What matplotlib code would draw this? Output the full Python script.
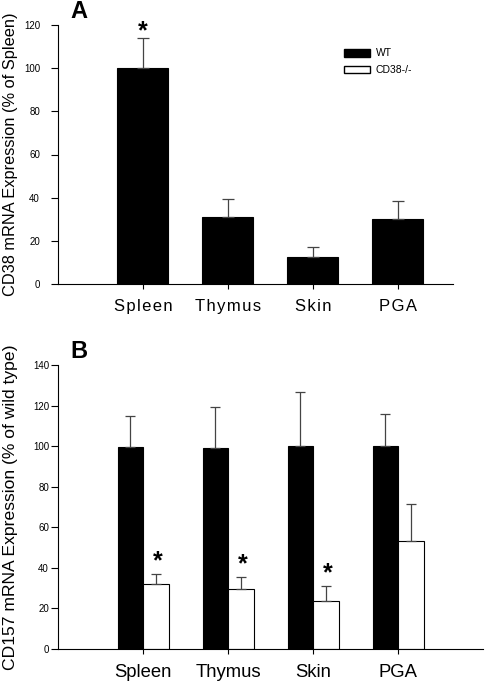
import numpy as np
import matplotlib
matplotlib.use('Agg')
import matplotlib.pyplot as plt
from matplotlib.patches import Patch

plt.rcParams['font.family'] = ['Liberation Sans', 'DejaVu Sans']

tissues = ['Spleen', 'Thymus', 'Skin', 'PGA']

# panel A: CD38 mRNA (% of spleen)
cd38 = [100, 31.2, 12.3, 30.0]
cd38_err = [14, 8.0, 4.7, 8.6]

# panel B: CD157 mRNA (% of wild type)
wt = [99.7, 99.4, 100.2, 100.0]
wt_err = [15.1, 20.2, 26.8, 16.0]
ko = [32.3, 29.4, 23.9, 53.5]
ko_err = [4.7, 6.3, 7.1, 17.9]
ko_sig = [True, True, True, False]

x = np.arange(1, len(tissues) + 1)
errcol = '#444444'

fig = plt.figure(figsize=(4.86, 6.82), dpi=100)

# ---- A ----
ax1 = fig.add_axes([58/486, 1-284/682, (453-58)/486, (284-25)/682])
ax1.bar(x, cd38, width=0.6, color='black', edgecolor='black', linewidth=0.8,
        yerr=[np.zeros(4), cd38_err], error_kw=dict(ecolor=errcol, elinewidth=0.9,
        capsize=4.5, capthick=0.9))
ax1.text(x[0], cd38[0] + cd38_err[0] - 2.6, '*', ha='center', va='bottom',
         fontsize=18, fontweight='bold')
ax1.set_xlim(0, 4.65)
ax1.set_ylim(0, 120)
ax1.set_yticks(np.arange(0, 121, 20))
ax1.set_xticks(x)
ax1.set_xticklabels(['\u200a'.join(t) for t in tissues], fontsize=12)
ax1.set_ylabel('CD38 mRNA Expression (% of Spleen)', fontsize=11.8)
ax1.yaxis.set_label_coords(-0.1, 0.5)
ax1.text(79/486, 1-12/682, 'A', transform=fig.transFigure, ha='center',
         va='center', fontsize=17, fontweight='bold')
leg = ax1.legend(handles=[Patch(facecolor='black', edgecolor='black', label='WT'),
                          Patch(facecolor='white', edgecolor='black', label='CD38-/-')],
                 loc='upper left', bbox_to_anchor=(0.71, 0.93), frameon=False,
                 fontsize=7.5, handlelength=2.5, handleheight=0.8,
                 labelspacing=0.65, handletextpad=0.6, borderpad=0)

# ---- B ----
ax2 = fig.add_axes([58/486, 1-649/682, (483-58)/486, (649-365.3)/682])
w = 0.3
ax2.bar(x - w/2, wt, width=w, color='black', edgecolor='black', linewidth=0.8,
        yerr=[np.zeros(4), wt_err], error_kw=dict(ecolor=errcol, elinewidth=0.9,
        capsize=3.5, capthick=0.9))
ax2.bar(x + w/2, ko, width=w, color='white', edgecolor='black', linewidth=0.8,
        yerr=[np.zeros(4), ko_err], error_kw=dict(ecolor=errcol, elinewidth=0.9,
        capsize=3.5, capthick=0.9))
for xi, v, e, s in zip(x, ko, ko_err, ko_sig):
    if s:
        ax2.text(xi + w/2 + 0.02, v + e + 0.2, '*', ha='center', va='bottom',
                 fontsize=18, fontweight='bold')
ax2.set_xlim(0, 5.0)
ax2.set_ylim(0, 140)
ax2.set_yticks(np.arange(0, 141, 20))
ax2.set_xticks(x)
ax2.set_xticklabels(tissues, fontsize=13.3)
ax2.set_ylabel('CD157 mRNA Expression (% of wild type)', fontsize=12.6)
ax2.yaxis.set_label_coords(-0.093, 0.5)
ax2.text(79/486, 1-352/682, 'B', transform=fig.transFigure, ha='center',
         va='center', fontsize=17, fontweight='bold')

for ax, ypad in ((ax1, 8), (ax2, 1.5)):
    for s in ('top', 'right'):
        ax.spines[s].set_visible(False)
    ax.spines['left'].set_linewidth(0.8)
    ax.spines['bottom'].set_linewidth(0.8)
    ax.tick_params(axis='y', labelsize=7, length=5, width=0.8, pad=ypad)
    ax.tick_params(axis='x', length=3.5, width=0.8, pad=7)

fig.savefig('out.png', dpi=100)
